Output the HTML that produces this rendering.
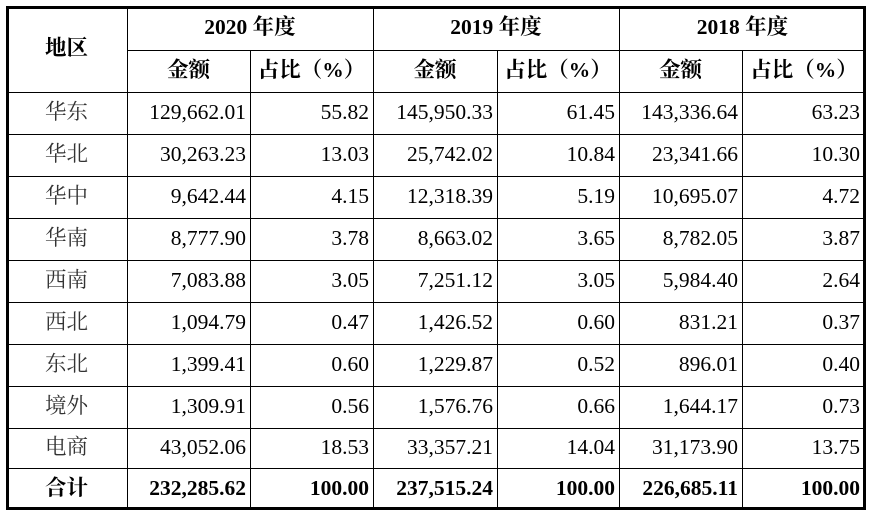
<!DOCTYPE html>
<html><head><meta charset="utf-8"><style>
body{margin:0;width:871px;height:515px;background:#fff;position:relative;overflow:hidden;font-family:"Liberation Serif","Noto Serif CJK SC",serif;color:#000}
.c{position:absolute;box-sizing:border-box;display:flex;align-items:center;font-size:21.5px;white-space:nowrap;line-height:1}
.r{justify-content:flex-end;padding-right:4px}
.m{justify-content:center}
.b{font-weight:bold}
.h{position:absolute;background:#000}
</style></head><body>
<div id="t"></div>
<script>
const xs=[6,127,250,373,497,619,742,866];
const ys=[6,50,92,134,176,218,260,302,344,386,428,468,510];
const years=["2020 年度","2019 年度","2018 年度"];
const regions=["华东","华北","华中","华南","西南","西北","东北","境外","电商","合计"];
const vals=[
["129,662.01","55.82","145,950.33","61.45","143,336.64","63.23"],
["30,263.23","13.03","25,742.02","10.84","23,341.66","10.30"],
["9,642.44","4.15","12,318.39","5.19","10,695.07","4.72"],
["8,777.90","3.78","8,663.02","3.65","8,782.05","3.87"],
["7,083.88","3.05","7,251.12","3.05","5,984.40","2.64"],
["1,094.79","0.47","1,426.52","0.60","831.21","0.37"],
["1,399.41","0.60","1,229.87","0.52","896.01","0.40"],
["1,309.91","0.56","1,576.76","0.66","1,644.17","0.73"],
["43,052.06","18.53","33,357.21","14.04","31,173.90","13.75"],
["232,285.62","100.00","237,515.24","100.00","226,685.11","100.00"]];
const T=document.getElementById('t');
function cell(x1,y1,x2,y2,txt,cls,name){const d=document.createElement('div');d.className='c '+cls;
d.style.left=x1+'px';d.style.top=y1+'px';d.style.width=(x2-x1)+'px';d.style.height=(y2-y1)+'px';d.textContent=txt;


T.appendChild(d);return d;}
function line(x,y,w,h){const d=document.createElement('div');d.className='h';d.style.left=x+'px';d.style.top=y+'px';d.style.width=w+'px';d.style.height=h+'px';


T.appendChild(d);}
cell(xs[0],ys[0],xs[1],ys[2],"地区","m b","header-region");
years.forEach((y,i)=>{cell(xs[1+2*i],ys[0],xs[3+2*i],ys[1],y,"m b","header-year");
cell(xs[1+2*i],ys[1],xs[2+2*i],ys[2],"金额","m b","header-amount");
cell(xs[2+2*i],ys[1],xs[3+2*i],ys[2],"占比（%）","m b","header-share");});
regions.forEach((r,i)=>{const tot=i===regions.length-1;
const l=cell(xs[0],ys[2+i],xs[1],ys[3+i],r,"m"+(tot?" b":""),"region-label");
if(!tot)l.style.color='#333';
vals[i].forEach((v,j)=>{const d=cell(xs[1+j],ys[2+i],xs[2+j],ys[3+i],v,"r"+(tot?" b":""),"value-cell");if(j===5)d.style.paddingRight='6px';});});
ys.forEach((y,i)=>{if(i===0||i===ys.length-1)return;
if(i===1)years.forEach((_,k)=>line(xs[1+2*k],y,xs[3+2*k]-xs[1+2*k],1));else line(xs[0],y,xs[7]-xs[0],1);});
xs.forEach((x,i)=>{if(i===0||i===xs.length-1)return;
if(i%2===0)line(x,ys[1],1,ys[12]-ys[1]);else line(x,ys[0],1,ys[12]-ys[0]);});
line(xs[0],ys[0],xs[7]-xs[0],3);line(xs[0],ys[12]-3,xs[7]-xs[0],3);
line(xs[0],ys[0],3,ys[12]-ys[0]);line(xs[7]-3,ys[0],3,ys[12]-ys[0]);
</script>
</body></html>
